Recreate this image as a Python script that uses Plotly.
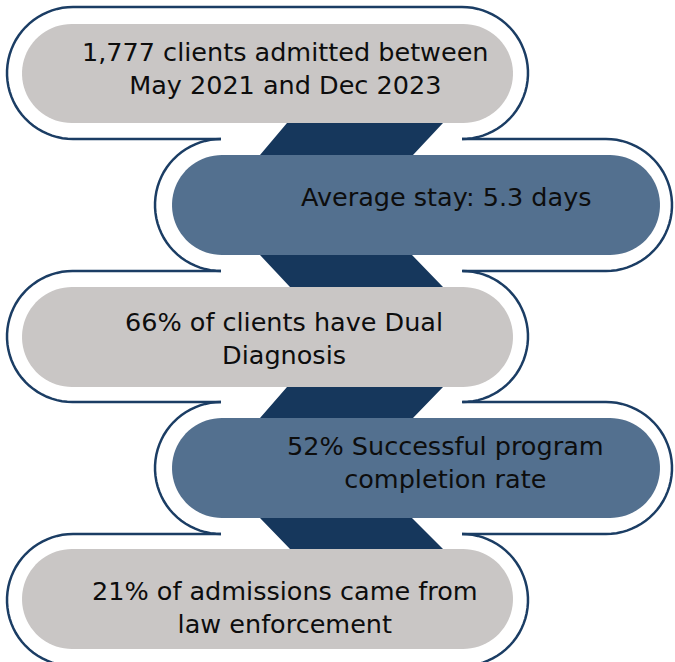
import numpy as np
import plotly.graph_objects as go

# ---- content ----
labels = [
    "1,777 clients admitted between<br>May 2021 and Dec 2023",
    "Average stay: 5.3 days",
    "66% of clients have Dual<br>Diagnosis",
    "52% Successful program<br>completion rate",
    "21% of admissions came from<br>law enforcement",
]
sides = ["left", "right", "left", "right", "left"]
label_x = [285, 446, 284, 445, 285]
label_y = [68, 197, 338, 462, 607]

# ---- layout constants (pixels) ----
W, H = 675, 662
GRAY, BLUE, DARK, LINE = "#c9c6c5", "#53708f", "#16375c", "#1b3d64"
PILL_X = {"left": (22, 513), "right": (172, 660)}
OUT_X = {"left": (7, 528), "right": (155, 672)}
PILL_Y = [(24, 123), (155, 255), (287, 387), (418, 518), (549, 649)]
OUT_Y = [(7, 139), (139, 271), (271, 402), (402, 534), (534, 666)]


def arc(cx, y0, y1, side, n=40):
    r = (y1 - y0) / 2
    cy = (y0 + y1) / 2
    t = np.linspace(0, np.pi, n)
    s = -1 if side == "L" else 1
    return list(zip(cx + s * r * np.sin(t), cy - r * np.cos(t)))


def path(pts, close=False):
    d = "M " + " L ".join(f"{x:.2f},{y:.2f}" for x, y in pts)
    return d + (" Z" if close else "")


shapes = []

# connectors (zigzag ribbon behind pills)
for i in range(len(PILL_Y) - 1):
    ytop = PILL_Y[i][1]
    ybot = PILL_Y[i + 1][0]
    if sides[i] == "left":
        tx, bx = (287, 443), (260, 413)
    else:
        tx, bx = (260, 412), (290, 443)
    pts = [(tx[0], ytop - 8), (tx[1], ytop - 8), (tx[1], ytop), (bx[1], ybot),
           (bx[1], ybot + 8), (bx[0], ybot + 8), (bx[0], ybot), (tx[0], ytop)]
    shapes.append(dict(type="path", path=path(pts, True), fillcolor=DARK,
                       line=dict(width=0), layer="below"))

# pills
for i, side in enumerate(sides):
    x0, x1 = PILL_X[side]
    y0, y1 = PILL_Y[i]
    r = (y1 - y0) / 2
    pts = arc(x1 - r, y0, y1, "R") + arc(x0 + r, y0, y1, "L")[::-1]
    shapes.append(dict(type="path", path=path(pts, True),
                       fillcolor=GRAY if side == "left" else BLUE,
                       line=dict(width=0), layer="above"))

# outlines (snake)
gap_l = OUT_X["right"][0] + (OUT_Y[1][1] - OUT_Y[1][0]) / 2
gap_r = OUT_X["left"][1] - (OUT_Y[0][1] - OUT_Y[0][0]) / 2
n = len(sides)
for i, side in enumerate(sides):
    x0, x1 = OUT_X[side]
    y0, y1 = OUT_Y[i]
    r = (y1 - y0) / 2
    cxL, cxR = x0 + r, x1 - r
    pieces = []
    if side == "left":
        left_arc = arc(cxL, y0, y1, "L")
        right_arc = arc(cxR, y0, y1, "R")
        if i == 0:
            pieces.append(right_arc[::-1] + left_arc + [(gap_l, y1)])
        elif i == n - 1:
            pieces.append([(gap_l, y0)] + left_arc + right_arc[::-1])
        else:
            pieces.append([(gap_l, y0)] + left_arc + [(gap_l, y1)])
            pieces.append(right_arc)
    else:
        pieces.append(arc(cxL, y0, y1, "L"))
        pieces.append([(gap_r, y0)] + arc(cxR, y0, y1, "R") + [(gap_r, y1)])
    for p in pieces:
        shapes.append(dict(type="path", path=path(p), line=dict(color=LINE, width=2.5),
                           fillcolor="rgba(0,0,0,0)", layer="above"))

annotations = [
    dict(x=x, y=y, text=t, showarrow=False, xanchor="center", yanchor="middle",
         font=dict(family="DejaVu Sans", size=25.5, color="#0d0d0d"), align="center")
    for t, x, y in zip(labels, label_x, label_y)
]

fig = go.Figure()
fig.add_trace(go.Scatter(x=[0, W], y=[0, H], mode="markers",
                         marker=dict(opacity=0), hoverinfo="skip", showlegend=False))
fig.update_layout(
    width=W, height=H, margin=dict(l=0, r=0, t=0, b=0),
    paper_bgcolor="white", plot_bgcolor="white",
    xaxis=dict(range=[0, W], visible=False, fixedrange=True),
    yaxis=dict(range=[H, 0], visible=False, fixedrange=True),
    shapes=shapes, annotations=annotations,
)
fig.write_html("out.html", config={"displayModeBar": False},
               post_script="document.body.style.margin='0';document.body.style.overflow='hidden';")
